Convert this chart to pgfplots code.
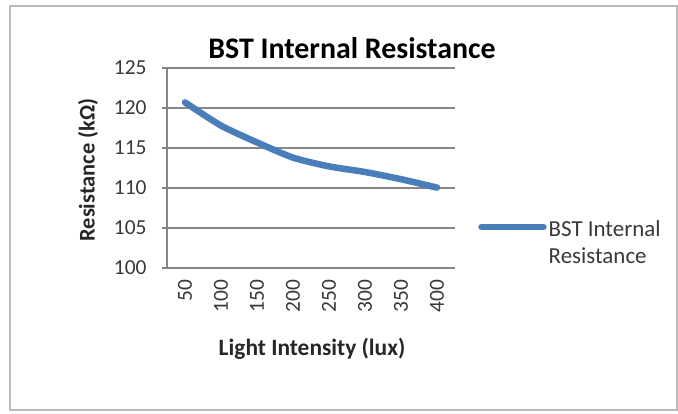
\documentclass[border=0pt]{standalone}
\usepackage{pgfplots}
\pgfplotsset{compat=1.18}
\usepackage{fontspec}
\setmainfont{Carlito}
\definecolor{serblue}{HTML}{4A7EBB}
\definecolor{gridgray}{HTML}{868686}
\begin{document}
\begin{tikzpicture}[x=1bp,y=1bp]
\path (0,0) rectangle (678,413);
\draw[gray!55, line width=1.5bp] (10,3) rectangle (677,407);
\begin{axis}[
  at={(167bp,145bp)}, anchor=south west,
  scale only axis, width=288bp, height=200bp,
  xmin=0.5, xmax=8.5, ymin=100, ymax=125,
  ytick={100,105,...,125},
  xtick={1,...,8},
  xticklabels={50,100,150,200,250,300,350,400},
  axis lines*=left,
  axis line style={gridgray, line width=1.2bp},
  ymajorgrids, grid style={gridgray, line width=1.2bp},
  xtick style={draw=none},
  ytick style={gridgray, line width=1.2bp},
  tick align=outside, major tick length=5bp,
  /pgf/number format/assume math mode=true,
  tick label style={font=\fontsize{21.5}{25}\selectfont, text=black!78},
  x tick label style={rotate=90, anchor=east, xshift=0bp},
  xticklabel shift=3bp,
  yticklabel shift=12bp,
  clip=false,
  legend style={draw=none, fill=none, at={(1.08,0.205)}, anchor=west,
    font=\fontsize{23}{28}\selectfont, text=black!78, inner sep=0pt,
    legend cell align=left},
  legend image code/.code={\draw[#1, line cap=round] (0bp,0bp) -- (62bp,0bp);},
]
\addplot[serblue, line width=6.5bp, line cap=round, line join=round, smooth, tension=0.4]
  coordinates {(1,120.7) (2,117.8) (3,115.7) (4,113.8) (5,112.7) (6,112.0) (7,111.1) (8,110.05)};
\addlegendentry{\begin{tabular}[t]{@{}l@{}}BST Internal\\[0bp]Resistance\end{tabular}}
\end{axis}
\node[font=\bfseries\fontsize{30}{34}\selectfont] at (352,365) {BST Internal Resistance};
\node[font=\bfseries\fontsize{22.5}{26}\selectfont, rotate=90, text=black!85] at (88,243) {Resistance (kΩ)};
\node[font=\bfseries\fontsize{23.5}{27}\selectfont, text=black!85] at (312,64) {Light Intensity (lux)};
\end{tikzpicture}
\end{document}
